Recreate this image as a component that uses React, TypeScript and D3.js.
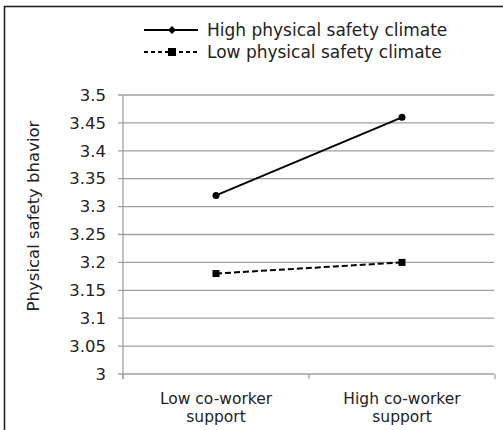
import React from "react";
import * as d3 from "d3";

const categories = ["Low co-worker support", "High co-worker support"];
const categoryLines = [["Low co-worker", "support"], ["High co-worker", "support"]];
const highClimate = [3.32, 3.46];
const lowClimate = [3.18, 3.2];
const yTicks = [3, 3.05, 3.1, 3.15, 3.2, 3.25, 3.3, 3.35, 3.4, 3.45, 3.5];
const seriesNames = ["High physical safety climate", "Low physical safety climate"];

export default function App() {
  const W = 503, H = 430;
  const left = 123, right = 495, top = 95, bottom = 374;
  const x = d3.scaleBand<string>().domain(categories).range([left, right]);
  const y = d3.scaleLinear().domain([3, 3.5]).range([bottom, top]);
  const line = d3.line<number>()
    .x((_, i) => (x(categories[i]) as number) + x.bandwidth() / 2)
    .y((d) => y(d));
  const font = "DejaVu Sans, Verdana, sans-serif";
  const grid = "#a0a0a0";
  const fs = 16.5;
  return (
    <svg width={W} height={H} style={{ position: "absolute", left: 0, top: 0, display: "block" }} fontFamily={font}>
      <rect x={0} y={0} width={W} height={H} fill="white" />
      <rect x={4.5} y={6.5} width={560} height={500} fill="none" stroke="#222" strokeWidth={1.6} />
      {yTicks.map((t) => (
        <g key={t}>
          <line x1={left - 5} x2={right - 1} y1={y(t)} y2={y(t)} stroke={grid} strokeWidth={1.3} />
          <text x={106} y={y(t)} dy="0.35em" textAnchor="end" fontSize={fs} fill="#222">
            {String(t)}
          </text>
        </g>
      ))}
      <line x1={left} x2={left} y1={top} y2={bottom + 5} stroke={grid} strokeWidth={1.3} />
      {[0, 1, 2].map((i) => {
        const xv = i < 2 ? (x(categories[i]) as number) : right;
        return <line key={i} x1={xv} x2={xv} y1={bottom} y2={bottom + 5} stroke={grid} strokeWidth={1.3} />;
      })}
      {categories.map((c, i) => (
        <g key={c}>
          <text x={(x(c) as number) + x.bandwidth() / 2} y={404} textAnchor="middle" fontSize={15.5} fill="#222">
            {categoryLines[i][0]}
          </text>
          <text x={(x(c) as number) + x.bandwidth() / 2} y={422} textAnchor="middle" fontSize={15.5} fill="#222">
            {categoryLines[i][1]}
          </text>
        </g>
      ))}
      <text transform={`translate(39,216) rotate(-90)`} textAnchor="middle" fontSize={fs} fill="#222">
        Physical safety bhavior
      </text>
      <path d={line(highClimate) || ""} fill="none" stroke="#000" strokeWidth={2} />
      {highClimate.map((v, i) => (
        <circle key={i} cx={(x(categories[i]) as number) + x.bandwidth() / 2} cy={y(v)} r={3.5} fill="#000" />
      ))}
      <path d={line(lowClimate) || ""} fill="none" stroke="#000" strokeWidth={2} strokeDasharray="6,3" />
      {lowClimate.map((v, i) => (
        <rect key={i} x={(x(categories[i]) as number) + x.bandwidth() / 2 - 3.5} y={y(v) - 3.5} width={7} height={7} fill="#000" />
      ))}
      <g>
        <line x1={144} x2={198} y1={30} y2={30} stroke="#000" strokeWidth={2} />
        <path d="M172,26 L176,30 L172,34 L168,30 Z" fill="#000" />
        <text x={207} y={30} dy="0.35em" fontSize={17} fill="#222">{seriesNames[0]}</text>
        <line x1={144} x2={198} y1={52} y2={52} stroke="#000" strokeWidth={2} strokeDasharray="4,3" />
        <rect x={168} y={48} width={8} height={8} fill="#000" />
        <text x={207} y={52} dy="0.35em" fontSize={17} fill="#222">{seriesNames[1]}</text>
      </g>
    </svg>
  );
}
